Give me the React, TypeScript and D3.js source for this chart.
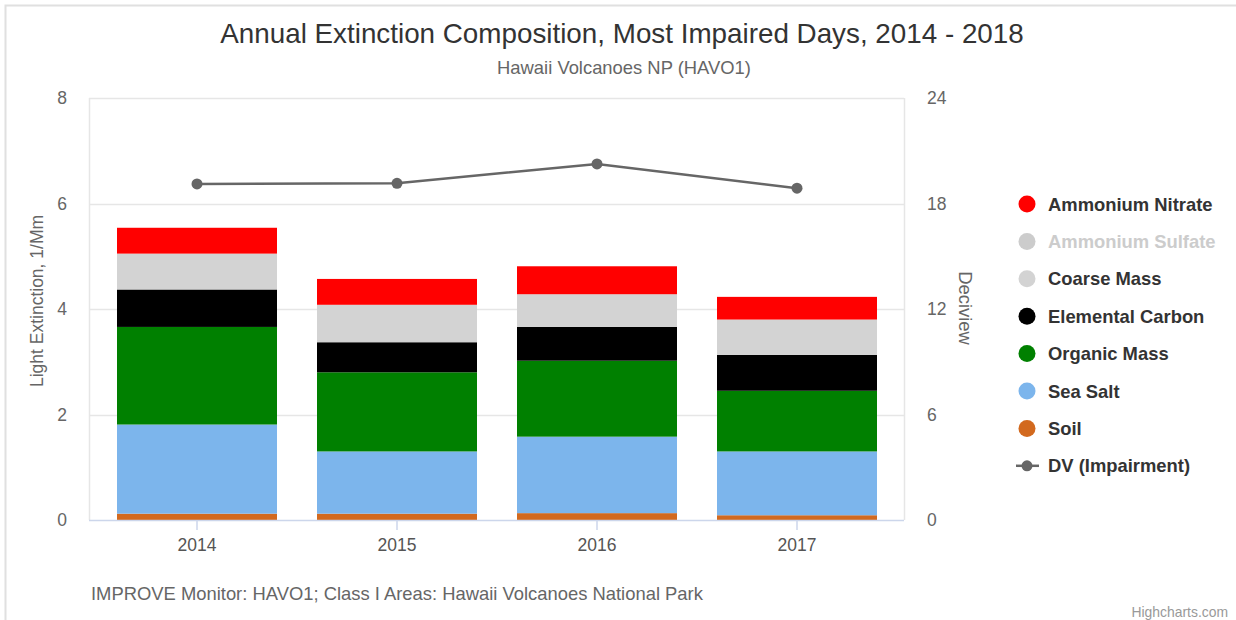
import React from 'react';
import * as d3 from 'd3';

const years = ['2014', '2015', '2016', '2017'];
const soil = [0.12, 0.12, 0.13, 0.09];
const seaSalt = [1.69, 1.18, 1.45, 1.21];
const organicMass = [1.85, 1.5, 1.44, 1.15];
const elementalCarbon = [0.71, 0.57, 0.64, 0.68];
const coarseMass = [0.68, 0.71, 0.62, 0.67];
const ammoniumNitrate = [0.49, 0.49, 0.53, 0.43];
const dvImpairment = [19.11, 19.15, 20.25, 18.87];

const leftTicks = [0, 2, 4, 6, 8];
const rightTicks = [0, 6, 12, 18, 24];

// bottom -> top stacking order
const stackKeys = ['soil', 'seaSalt', 'organicMass', 'elementalCarbon', 'coarseMass', 'ammoniumNitrate'];
const colors: Record<string, string> = {
	soil: '#d2691e',
	seaSalt: '#7cb5ec',
	organicMass: '#008000',
	elementalCarbon: '#000000',
	coarseMass: '#d3d3d3',
	ammoniumNitrate: '#ff0000',
};

const legendItems = [
	{ name: 'Ammonium Nitrate', color: '#ff0000', hidden: false },
	{ name: 'Ammonium Sulfate', color: '#cccccc', hidden: true },
	{ name: 'Coarse Mass', color: '#d3d3d3', hidden: false },
	{ name: 'Elemental Carbon', color: '#000000', hidden: false },
	{ name: 'Organic Mass', color: '#008000', hidden: false },
	{ name: 'Sea Salt', color: '#7cb5ec', hidden: false },
	{ name: 'Soil', color: '#d2691e', hidden: false },
];

const font = '"Liberation Sans", Arial, Helvetica, sans-serif';

function App() {
	const W = 1236, H = 620;
	const left = 89, right = 904, top = 98, bottom = 520;

	const rows = years.map((y, i) => ({
		year: y,
		soil: soil[i],
		seaSalt: seaSalt[i],
		organicMass: organicMass[i],
		elementalCarbon: elementalCarbon[i],
		coarseMass: coarseMass[i],
		ammoniumNitrate: ammoniumNitrate[i],
	}));
	const stacked = d3.stack<any>().keys(stackKeys)(rows);

	const x = d3.scaleBand().domain(years).range([97, 897]).paddingInner(0.2).paddingOuter(0.1);
	const yL = d3.scaleLinear().domain([0, 8]).range([bottom, top]);
	const yR = d3.scaleLinear().domain([0, 24]).range([bottom, top]);
	const cx = (y: string) => (x(y) as number) + x.bandwidth() / 2;

	const line = d3.line<number>()
		.x((d, i) => cx(years[i]))
		.y(d => yR(d));

	return (
		<svg width={W} height={H} style={{ position: 'absolute', left: 0, top: 0, fontFamily: font }}>
			<rect x={0} y={0} width={W} height={H} fill="#fff" />
			<rect x={5.5} y={5.5} width={W + 10} height={H + 10} fill="none" stroke="#e0e0e0" strokeWidth={2} />

			<text x={622} y={43} textAnchor="middle" fontSize={27.8} fill="#333">
				Annual Extinction Composition, Most Impaired Days, 2014 - 2018
			</text>
			<text x={624} y={74} textAnchor="middle" fontSize={18.4} fill="#666">
				Hawaii Volcanoes NP (HAVO1)
			</text>

			{/* grid */}
			{leftTicks.filter(t => t > 0).map(t => (
				<line key={t} x1={left} x2={right} y1={Math.round(yL(t)) + 0.5} y2={Math.round(yL(t)) + 0.5} stroke="#e6e6e6" strokeWidth={1.5} />
			))}
			<line x1={left + 0.5} x2={left + 0.5} y1={top} y2={bottom} stroke="#e6e6e6" strokeWidth={1.5} />
			<line x1={right + 0.5} x2={right + 0.5} y1={top} y2={bottom} stroke="#e6e6e6" strokeWidth={1.5} />

			{/* bars */}
			{stacked.map(s => (
				<g key={s.key} fill={colors[s.key]}>
					{s.map((d, i) => (
						<rect key={i} x={x(years[i])} width={x.bandwidth()} y={yL(d[1])} height={yL(d[0]) - yL(d[1])} />
					))}
				</g>
			))}

			{/* x axis */}
			<line x1={left} x2={right} y1={bottom + 0.5} y2={bottom + 0.5} stroke="#ccd6eb" strokeWidth={1.5} />
			{years.map(y => (
				<g key={y}>
					<line x1={cx(y)} x2={cx(y)} y1={bottom} y2={bottom + 10} stroke="#ccd6eb" strokeWidth={1.5} />
					<text x={cx(y)} y={551} textAnchor="middle" fontSize={17.5} fill="#555">{y}</text>
				</g>
			))}

			{/* left axis */}
			{leftTicks.map(t => (
				<text key={t} x={67} y={yL(t) + 6} textAnchor="end" fontSize={17.5} fill="#666">{t}</text>
			))}
			<text transform={`translate(43,301) rotate(-90)`} textAnchor="middle" fontSize={17.5} fill="#666">Light Extinction, 1/Mm</text>

			{/* right axis */}
			{rightTicks.map(t => (
				<text key={t} x={927} y={yR(t) + 6} textAnchor="start" fontSize={17.5} fill="#666">{t}</text>
			))}
			<text transform={`translate(959,308) rotate(90)`} textAnchor="middle" fontSize={18.4} fill="#666">Deciview</text>

			{/* DV line */}
			<path d={line(dvImpairment) as string} fill="none" stroke="#666" strokeWidth={2.5} />
			{dvImpairment.map((v, i) => (
				<circle key={i} cx={cx(years[i])} cy={yR(v)} r={5.5} fill="#666" />
			))}

			{/* legend */}
			{legendItems.map((it, i) => (
				<g key={it.name} transform={`translate(1027,${204 + i * 37.4})`}>
					<circle r={8.5} fill={it.color} />
					<text x={21} y={6.5} fontSize={18.4} fontWeight="bold" fill={it.hidden ? '#cccccc' : '#333'}>{it.name}</text>
				</g>
			))}
			<g transform={`translate(1027,${204 + 7 * 37.4})`}>
				<line x1={-11} x2={12} y1={0} y2={0} stroke="#666" strokeWidth={2.5} />
				<circle r={5.5} fill="#666" />
				<text x={21} y={6.5} fontSize={18.4} fontWeight="bold" fill="#333">DV (Impairment)</text>
			</g>

			<text x={91} y={600} fontSize={18.4} fill="#666">IMPROVE Monitor: HAVO1; Class I Areas: Hawaii Volcanoes National Park</text>
			<text x={1228} y={617} textAnchor="end" fontSize={13.9} fill="#999">Highcharts.com</text>
		</svg>
	);
}

export default App;
